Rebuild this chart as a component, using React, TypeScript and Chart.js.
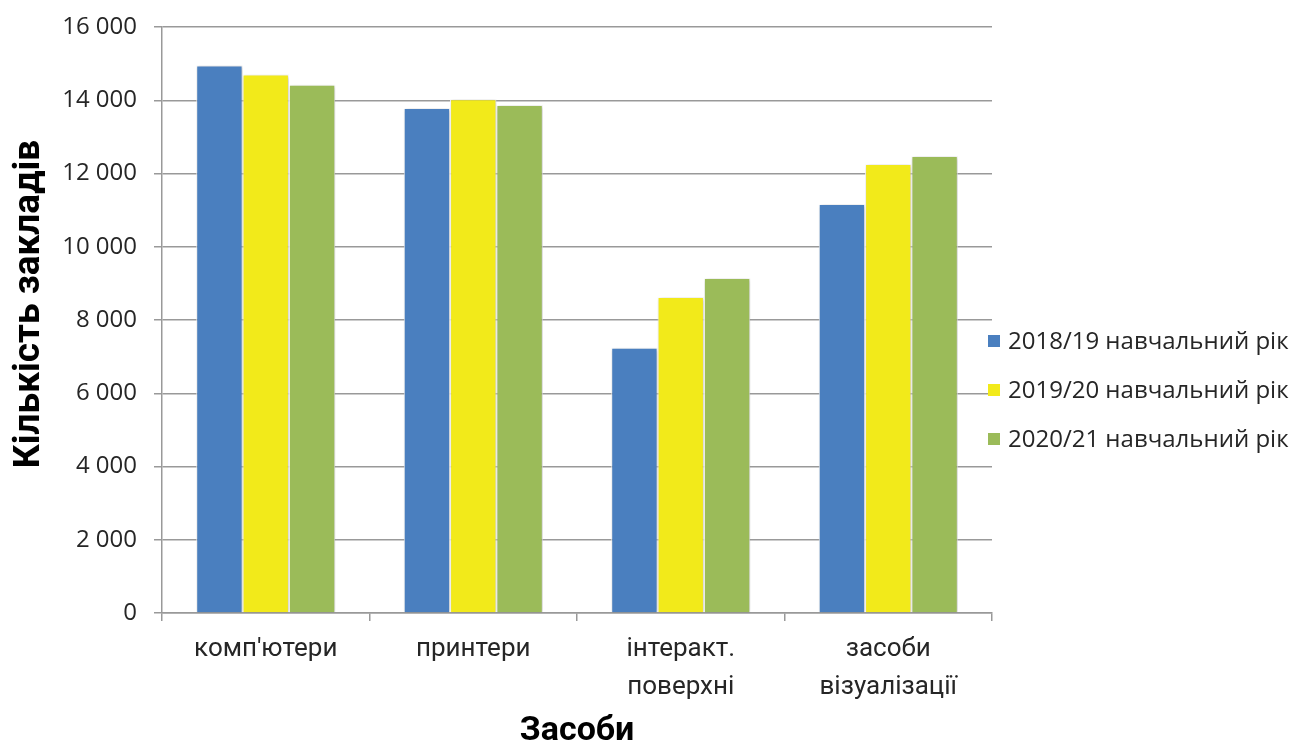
import React, { useEffect, useRef } from "react";
import { Chart, registerables } from "chart.js";

Chart.register(...registerables);

const categories: string[][] = [
  ["комп'ютери"],
  ["принтери"],
  ["інтеракт.", "поверхні"],
  ["засоби", "візуалізації"],
];
const seriesNames = [
  "2018/19 навчальний рік",
  "2019/20 навчальний рік",
  "2020/21 навчальний рік",
];
const values2018 = [14950, 13790, 7240, 11170];
const values2019 = [14700, 14030, 8630, 12260];
const values2020 = [14420, 13870, 9150, 12480];
const seriesColors = ["#4A7FBF", "#F2EA1A", "#9BBB59"];
const yTicks = [0, 2000, 4000, 6000, 8000, 10000, 12000, 14000, 16000];
const yTitle = "Кількість закладів";
const xTitle = "Засоби";

const fmt = (v: number) => {
  const s = String(Math.round(v));
  return s.replace(/\B(?=(\d{3})+(?!\d))/g, " ");
};

const legendPlugin = {
  id: "customLegend",
  afterDraw(chart: any) {
    const ctx = chart.ctx;
    const area = chart.chartArea;
    const x = area.right - 4;
    const cy = (area.top + area.bottom) / 2 + 70;
    const step = 49;
    ctx.save();
    ctx.font = "24px 'Open Sans'";
    ctx.textBaseline = "middle";
    ctx.textAlign = "left";
    seriesNames.forEach((name, i) => {
      const y = cy + (i - 1) * step;
      ctx.fillStyle = seriesColors[i];
      ctx.fillRect(x, y - 6, 12, 12);
      ctx.fillStyle = "#262626";
      ctx.fillText(name, x + 20, y + 1);
    });
    ctx.restore();
  },
};

const yTitlePlugin = {
  id: "yTitleDraw",
  afterDraw(chart: any) {
    const ctx = chart.ctx;
    const area = chart.chartArea;
    ctx.save();
    ctx.translate(30, (area.top + area.bottom) / 2 - 16);
    ctx.rotate(-Math.PI / 2);
    ctx.font = "bold 37px Roboto";
    ctx.fillStyle = "#000000";
    ctx.textAlign = "center";
    ctx.textBaseline = "middle";
    ctx.fillText(yTitle, 0, 0);
    ctx.restore();
  },
};

const shadowPlugin = {
  id: "barShadow",
  beforeDatasetsDraw(chart: any) {
    const ctx = chart.ctx;
    ctx.save();
    ctx.shadowColor = "rgba(0,0,0,0.25)";
    ctx.shadowBlur = 4;
    ctx.shadowOffsetX = 1;
    ctx.shadowOffsetY = 1;
  },
  afterDatasetsDraw(chart: any) {
    chart.ctx.restore();
  },
};

export default function App() {
  const ref = useRef<HTMLCanvasElement | null>(null);

  useEffect(() => {
    if (!ref.current) return;
    const allValues = [values2018, values2019, values2020];
    const chart = new Chart(ref.current, {
      type: "bar",
      data: {
        labels: categories,
        datasets: seriesNames.map((name, i) => ({
          label: name,
          data: allValues[i],
          backgroundColor: seriesColors[i],
          borderColor: "#ffffff",
          borderWidth: 1,
          borderSkipped: "bottom",
          categoryPercentage: 0.67,
          barPercentage: 1,
        })),
      },
      options: {
        animation: false,
        responsive: true,
        maintainAspectRatio: false,
        layout: { padding: { left: 0, right: 301, top: 27, bottom: 0 } },
        plugins: {
          legend: { display: false },
          tooltip: { enabled: false },
        },
        scales: {
          x: {
            grid: {
              display: true,
              drawOnChartArea: false,
              drawTicks: true,
              tickLength: 8,
              offset: true,
              color: "#999999",
              lineWidth: 1.5,
            },
            border: { color: "#999999", width: 1.5 },
            ticks: {
              color: "#262626",
              font: { family: "Roboto", size: 26, lineHeight: 1.45 },
              padding: 10,
              maxRotation: 0,
              autoSkip: false,
            },
            title: {
              display: true,
              text: xTitle,
              color: "#000000",
              font: { family: "Roboto", size: 34, weight: "bold" },
              padding: { top: 0, bottom: -6 },
            },
            afterFit: (s: any) => {
              s.height = 133;
              s.paddingLeft = 0;
              s.paddingRight = 0;
            },
          },
          y: {
            min: 0,
            max: 16000,
            afterBuildTicks: (s: any) => {
              s.ticks = yTicks.map((v) => ({ value: v }));
            },
            grid: {
              color: "#999999",
              lineWidth: 1.5,
              drawTicks: true,
              tickLength: 8,
            },
            border: { color: "#999999", width: 1.5 },
            ticks: {
              color: "#262626",
              font: { family: "'Open Sans'", size: 24 },
              padding: 17,
              callback: (v: any) => fmt(Number(v)),
            },
            title: { display: false },
            afterFit: (s: any) => {
              s.width = 162;
              s.paddingTop = 0;
              s.paddingBottom = 0;
            },
          },
        },
      },
      plugins: [shadowPlugin, legendPlugin, yTitlePlugin],
    });
    return () => chart.destroy();
  }, []);

  return (
    <div style={{ position: "fixed", left: 0, top: 0, width: 1293, height: 746, background: "#fff" }}>
      <canvas ref={ref} />
    </div>
  );
}
